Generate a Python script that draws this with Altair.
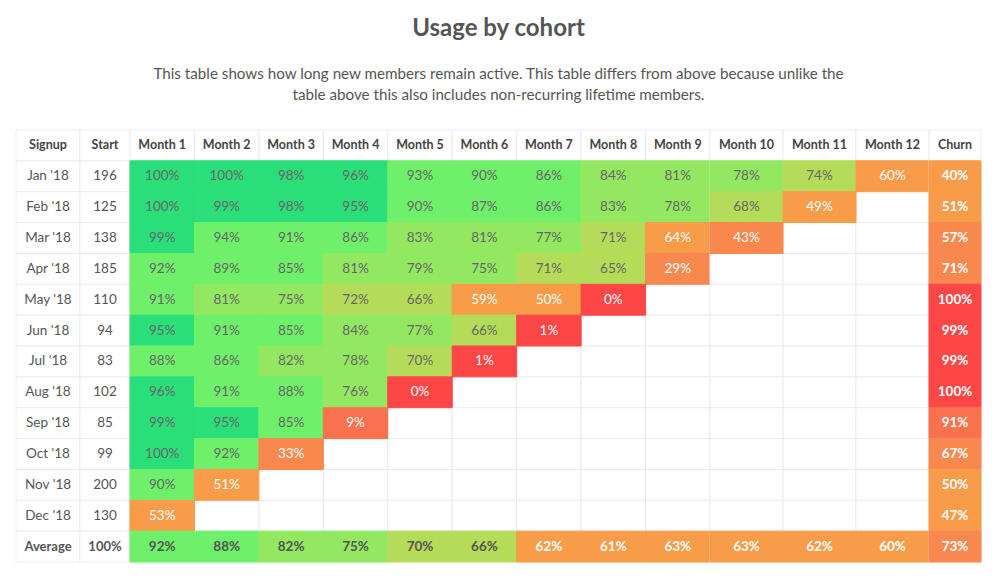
import altair as alt
import pandas as pd

title_text = "Usage by cohort"
subtitle_lines = [
    "This table shows how long new members remain active. This table differs from above because unlike the",
    "table above this also includes non-recurring lifetime members.",
]

columns = ["Signup", "Start"] + [f"Month {i}" for i in range(1, 13)] + ["Churn"]
signups = ["Jan '18", "Feb '18", "Mar '18", "Apr '18", "May '18", "Jun '18",
           "Jul '18", "Aug '18", "Sep '18", "Oct '18", "Nov '18", "Dec '18"]
starts = [196, 125, 138, 185, 110, 94, 83, 102, 85, 99, 200, 130]
retention = [
    [100, 100, 98, 96, 93, 90, 86, 84, 81, 78, 74, 60],
    [100, 99, 98, 95, 90, 87, 86, 83, 78, 68, 49],
    [99, 94, 91, 86, 83, 81, 77, 71, 64, 43],
    [92, 89, 85, 81, 79, 75, 71, 65, 29],
    [91, 81, 75, 72, 66, 59, 50, 0],
    [95, 91, 85, 84, 77, 66, 1],
    [88, 86, 82, 78, 70, 1],
    [96, 91, 88, 76, 0],
    [99, 95, 85, 9],
    [100, 92, 33],
    [90, 51],
    [53],
]
churn = [40, 51, 57, 71, 100, 99, 99, 100, 91, 67, 50, 47]
average_label = "Average"
average_start = "100%"
average_retention = [92, 88, 82, 75, 70, 66, 62, 61, 63, 63, 62, 60]
average_churn = 73

# colour bands (threshold scale on retention score)
thresholds = [5, 20, 45, 65, 75, 85, 95]
band_colors = ["#FD4646", "#F9714D", "#F9884F", "#F89C4A",
               "#B5DC58", "#93E862", "#6FF06A", "#2ADF7A"]

rows = ["header"] + signups + [average_label]

records = []
for c in columns:
    records.append(dict(row="header", col=c, label=c, score=None, style="hdr"))
for i, s in enumerate(signups):
    records.append(dict(row=s, col="Signup", label=s, score=None, style="lab"))
    records.append(dict(row=s, col="Start", label=str(starts[i]), score=None, style="lab"))
    for j in range(12):
        col = f"Month {j + 1}"
        if j < len(retention[i]):
            v = retention[i][j]
            records.append(dict(row=s, col=col, label=f"{v}%", score=v, style="val"))
        else:
            records.append(dict(row=s, col=col, label="", score=None, style="empty"))
    records.append(dict(row=s, col="Churn", label=f"{churn[i]}%", score=100 - churn[i], style="valb"))
records.append(dict(row=average_label, col="Signup", label=average_label, score=None, style="labb"))
records.append(dict(row=average_label, col="Start", label=average_start, score=None, style="labb"))
for j, v in enumerate(average_retention):
    records.append(dict(row=average_label, col=f"Month {j + 1}", label=f"{v}%", score=v, style="valb"))
records.append(dict(row=average_label, col="Churn", label=f"{average_churn}%",
                    score=100 - average_churn, style="valb"))

df = pd.DataFrame(records)

FONT = "Lato"
TABLE_HEIGHT = 432
color_scale = alt.Scale(type="threshold", domain=thresholds, range=band_colors)


def panel(cols, width):
    sub = df[df["col"].isin(cols)]
    base = alt.Chart(sub).encode(
        x=alt.X("col:N", sort=cols, axis=None,
                scale=alt.Scale(paddingInner=0, paddingOuter=0)),
        y=alt.Y("row:N", sort=rows, axis=None,
                scale=alt.Scale(paddingInner=0, paddingOuter=0)),
    )
    grid = base.mark_rect(fill="white", stroke="#EBEBEB", strokeWidth=1)
    cells = base.transform_filter("isValid(datum.score)").mark_rect(strokeWidth=1).encode(
        fill=alt.Fill("score:Q", scale=color_scale, legend=None),
        stroke=alt.Stroke("score:Q", scale=color_scale, legend=None),
    )
    val_text = base.transform_filter("datum.style == 'val'").mark_text(
        font=FONT, fontSize=13.5, baseline="middle", align="center"
    ).encode(
        text="label:N",
        color=alt.condition("datum.score < 65", alt.value("white"), alt.value("#666666")),
    )
    valb_text = base.transform_filter("datum.style == 'valb'").mark_text(
        font=FONT, fontSize=13.5, fontWeight="bold", baseline="middle", align="center"
    ).encode(
        text="label:N",
        color=alt.condition("datum.score < 65", alt.value("white"), alt.value("#555555")),
    )
    hdr_text = base.transform_filter("datum.style == 'hdr'").mark_text(
        font=FONT, fontSize=12.5, fontWeight="bold", color="#444444",
        baseline="middle", align="center"
    ).encode(text="label:N")
    lab_text = base.transform_filter("datum.style == 'lab'").mark_text(
        font=FONT, fontSize=13.5, color="#555555", baseline="middle", align="center"
    ).encode(text="label:N")
    labb_text = base.transform_filter("datum.style == 'labb'").mark_text(
        font=FONT, fontSize=13, fontWeight="bold", color="#555555",
        baseline="middle", align="center"
    ).encode(text="label:N")
    return alt.layer(grid, cells, val_text, valb_text, hdr_text, lab_text, labb_text).properties(
        width=width, height=TABLE_HEIGHT
    )


panels = [
    panel(["Signup"], 64),
    panel(["Start"], 50),
    panel([f"Month {i}" for i in range(1, 10)], 580),
    panel([f"Month {i}" for i in range(10, 13)], 219),
    panel(["Churn"], 52),
]

chart = alt.hconcat(*panels, spacing=0, bounds="flush").properties(
    padding={"left": 7, "top": 9, "right": 5, "bottom": 5},
    title=alt.TitleParams(
        text=title_text,
        subtitle=subtitle_lines,
        anchor="middle",
        font=FONT,
        fontSize=24,
        fontWeight="bold",
        color="#555555",
        subtitleFont=FONT,
        subtitleFontSize=15.2,
        subtitleColor="#555555",
        subtitleLineHeight=21,
        subtitlePadding=26,
        offset=26,
    ),
).configure_view(stroke=None).resolve_scale(fill="shared", stroke="shared")

chart.save("out.html", embed_options={"renderer": "svg", "actions": False})
